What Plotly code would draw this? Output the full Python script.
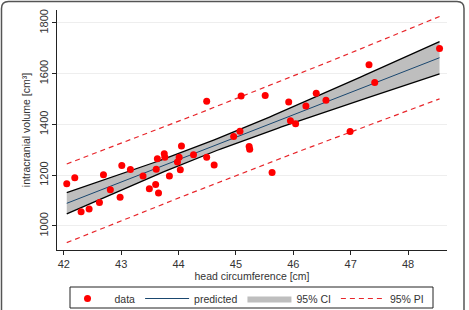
import numpy as np
import plotly.graph_objects as go

# data
head_circ = [42.05, 42.19, 42.30, 42.44, 42.62, 42.69, 42.81, 42.98, 43.01, 43.16,
             43.38, 43.49, 43.60, 43.61, 43.63, 43.65, 43.75, 43.76, 43.84, 43.98,
             44.01, 44.03, 44.05, 44.26, 44.49, 44.49, 44.62, 44.96, 45.07, 45.09,
             45.23, 45.24, 45.51, 45.63, 45.92, 45.95, 46.04, 46.22, 46.40, 46.57,
             46.99, 47.32, 47.42, 48.55]
icv = [1166, 1190, 1056, 1067, 1092, 1202, 1142, 1113, 1238, 1222,
       1197, 1146, 1163, 1223, 1265, 1130, 1284, 1271, 1197, 1252,
       1271, 1221, 1315, 1280, 1271, 1491, 1240, 1352, 1373, 1512,
       1313, 1302, 1514, 1210, 1488, 1414, 1403, 1473, 1523, 1495,
       1372, 1635, 1565, 1699]
x_ticks = [42, 43, 44, 45, 46, 47, 48]
y_ticks = [1000, 1200, 1400, 1600, 1800]

# OLS fit with confidence and prediction intervals
x = np.array(head_circ, dtype=float)
y = np.array(icv, dtype=float)
n = len(x)
b1, b0 = np.polyfit(x, y, 1)
resid = y - (b0 + b1 * x)
s = np.sqrt(np.sum(resid ** 2) / (n - 2))
t_crit = 2.018
xm = x.mean()
sxx = np.sum((x - xm) ** 2)
xg = np.linspace(x.min(), x.max(), 100)
yg = b0 + b1 * xg
se_ci = s * np.sqrt(1.0 / n + (xg - xm) ** 2 / sxx)
se_pi = s * np.sqrt(1 + 1.0 / n + (xg - xm) ** 2 / sxx)
ci_lo, ci_hi = yg - t_crit * se_ci, yg + t_crit * se_ci
pi_lo, pi_hi = yg - t_crit * se_pi, yg + t_crit * se_pi

fig = go.Figure()
fig.add_trace(go.Scatter(x=xg, y=ci_lo, mode="lines", line=dict(width=0, color="#bebebe"),
                         showlegend=False, hoverinfo="skip"))
fig.add_trace(go.Scatter(x=xg, y=ci_hi, mode="lines", line=dict(width=0, color="#bebebe"),
                         fill="tonexty", fillcolor="#bebebe", name="95% CI", legendrank=3))
fig.add_trace(go.Scatter(x=xg, y=ci_lo, mode="lines", line=dict(width=1.3, color="black"),
                         showlegend=False))
fig.add_trace(go.Scatter(x=xg, y=ci_hi, mode="lines", line=dict(width=1.3, color="black"),
                         showlegend=False))
fig.add_trace(go.Scatter(x=xg, y=yg, mode="lines", line=dict(width=1, color="#1a476f"),
                         name="predicted", legendrank=2))
fig.add_trace(go.Scatter(x=xg, y=pi_hi, mode="lines",
                         line=dict(width=1.2, color="#e8262b", dash="5px,4px"),
                         name="95% PI", legendrank=4))
fig.add_trace(go.Scatter(x=xg, y=pi_lo, mode="lines",
                         line=dict(width=1.2, color="#e8262b", dash="5px,4px"),
                         showlegend=False))
fig.add_trace(go.Scatter(x=head_circ, y=icv, mode="markers",
                         marker=dict(size=7, color="#ff0000"), name="data", legendrank=1))

# plot area geometry (pixels)
L, R, T, B = 57, 22, 10, 60
W, H = 469, 310
pw, ph = W - L - R, H - T - B


def px2paper(px, py):
    return (px - L) / pw, (H - B - py) / ph


def P(a, b):
    u, v = px2paper(a, b)
    return f"{u:.5f},{v:.5f}"


# rounded outer frame
x0, y0, x1, y1, r = 1.5, 1.5, 464, 318, 7
path = (f"M {P(x0 + r, y0)} L {P(x1 - r, y0)} Q {P(x1, y0)} {P(x1, y0 + r)} "
        f"L {P(x1, y1 - r)} Q {P(x1, y1)} {P(x1 - r, y1)} L {P(x0 + r, y1)} "
        f"Q {P(x0, y1)} {P(x0, y1 - r)} L {P(x0, y0 + r)} Q {P(x0, y0)} {P(x0 + r, y0)} Z")

# legend frame box
lx0, ly0 = px2paper(70, 287)
lx1, ly1 = px2paper(433, 308)

fig.update_layout(
    width=W, height=H,
    margin=dict(l=L, r=R, t=T, b=B, autoexpand=False),
    paper_bgcolor="white", plot_bgcolor="white",
    font=dict(family="Liberation Sans, Arial, sans-serif", size=11, color="#333333"),
    showlegend=True,
    legend=dict(orientation="h", x=px2paper(245, 0)[0], xanchor="center",
                y=px2paper(0, 284)[1], yanchor="top",
                bgcolor="rgba(0,0,0,0)", borderwidth=0, font=dict(size=10.5),
                traceorder="normal", itemwidth=44),
    shapes=[dict(type="path", xref="paper", yref="paper", path=path,
                 line=dict(color="#555555", width=1.5), layer="below"),
            dict(type="rect", xref="paper", yref="paper", x0=lx0, x1=lx1, y0=ly0, y1=ly1,
                 line=dict(color="#222222", width=1), fillcolor="rgba(0,0,0,0)")],
    xaxis=dict(range=[41.88, 48.68], tickvals=x_ticks, showgrid=False, zeroline=False,
               showline=True, linecolor="#222222", linewidth=1, ticks="outside", ticklen=4,
               tickcolor="#222222", automargin=False,
               title=dict(text="head circumference [cm]", font=dict(size=10.5), standoff=3)),
    yaxis=dict(range=[905, 1851], tickvals=y_ticks, showgrid=True, gridcolor="#eeeeee",
               zeroline=False, showline=True, linecolor="#222222", linewidth=1,
               ticks="outside", ticklen=4, tickcolor="#222222", tickangle=-90, automargin=False,
               title=dict(text="intracranial volume [cm³]", font=dict(size=10.5), standoff=4)),
)

fig.write_html("out.html")
